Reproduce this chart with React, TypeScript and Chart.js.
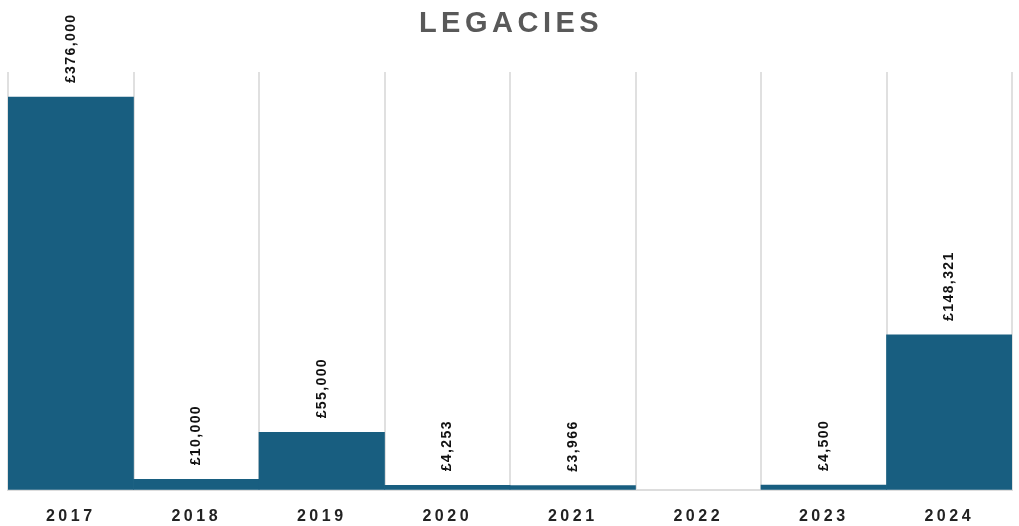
import React, { useEffect, useRef } from "react";
import { Chart, registerables } from "chart.js";

Chart.register(...registerables);

const TITLE = "LEGACIES";
const years = ["2017", "2018", "2019", "2020", "2021", "2022", "2023", "2024"];
const legacies: (number | null)[] = [376000, 10000, 55000, 4253, 3966, null, 4500, 148321];
const yMax = 400000;

const FONT = "'Liberation Sans', Arial, Helvetica, sans-serif";

function fmt(v: number): string {
  return "£" + v.toString().replace(/\B(?=(\d{3})+(?!\d))/g, ",");
}

export default function App() {
  const ref = useRef<HTMLCanvasElement>(null);

  useEffect(() => {
    if (!ref.current) return;
    const plugin = {
      id: "customDraw",
      beforeDraw(chart: any) {
        chart.ctx.letterSpacing = "3.5px";
      },
      afterDatasetsDraw(chart: any) {
        const ctx = chart.ctx;
        const meta = chart.getDatasetMeta(0);
        ctx.save();
        ctx.letterSpacing = "1.4px";
        ctx.font = `bold 14px ${FONT}`;
        ctx.fillStyle = "#111";
        ctx.textAlign = "left";
        ctx.textBaseline = "middle";
        meta.data.forEach((bar: any, i: number) => {
          const v = legacies[i];
          if (!v) return;
          ctx.save();
          ctx.translate(bar.x, bar.y - 14);
          ctx.rotate(-Math.PI / 2);
          ctx.fillText(fmt(v), 0, 0);
          ctx.restore();
        });
        ctx.restore();
      },
      afterDraw(chart: any) {
        const ctx = chart.ctx;
        ctx.save();
        ctx.letterSpacing = "4.5px";
        ctx.font = `bold 29px ${FONT}`;
        ctx.fillStyle = "#595959";
        ctx.textAlign = "center";
        ctx.textBaseline = "middle";
        ctx.fillText(TITLE, chart.width / 2 + 1.5, 24);
        ctx.restore();
        ctx.letterSpacing = "0px";
      },
    };

    const chart = new Chart(ref.current, {
      type: "bar",
      data: {
        labels: years,
        datasets: [
          {
            label: TITLE,
            data: legacies,
            backgroundColor: "#185e80",
            borderWidth: 0,
            barPercentage: 1,
            categoryPercentage: 1,
          },
        ],
      },
      options: {
        animation: false,
        responsive: true,
        maintainAspectRatio: false,
        layout: { padding: { top: 72, left: 8, right: 7, bottom: 4 } },
        plugins: {
          legend: { display: false },
          title: { display: false },
          tooltip: { enabled: false },
        },
        scales: {
          x: {
            grid: { color: "#e0e0e0", lineWidth: 2, drawTicks: false, offset: true },
            border: { color: "#dddddd", width: 2 },
            ticks: {
              color: "#222",
              padding: 17,
              font: { family: FONT, size: 16, weight: "bold" },
            },
          },
          y: {
            display: false,
            min: 0,
            max: yMax,
          },
        },
      },
      plugins: [plugin],
    });
    return () => chart.destroy();
  }, []);

  return (
    <div style={{ position: "absolute", left: 0, top: 0, width: 1019, height: 526, overflow: "hidden" }}>
      <div style={{ position: "relative", width: 1019, height: 547 }}>
        <canvas ref={ref} />
      </div>
    </div>
  );
}
